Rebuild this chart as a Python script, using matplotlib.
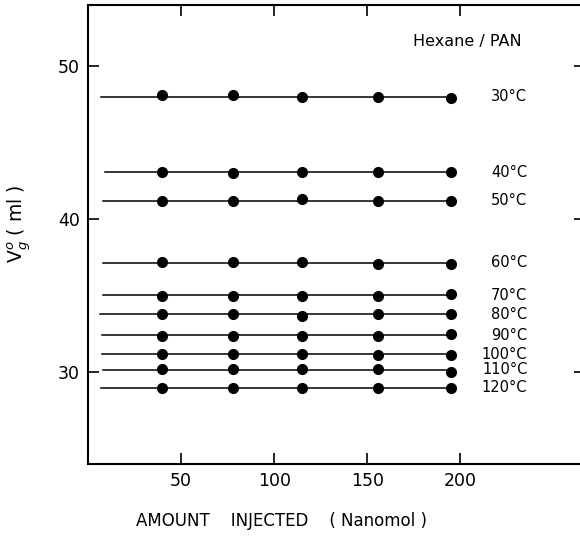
import numpy as np
import matplotlib
matplotlib.use("Agg")
import matplotlib.pyplot as plt

# === Data ===
amount = [40, 78, 115, 156, 195]           # nanomol injected
temps = ["30°C", "40°C", "50°C", "60°C", "70°C",
         "80°C", "90°C", "100°C", "110°C", "120°C"]
vg = [
    [48.1, 48.1, 48.0, 48.0, 47.9],
    [43.1, 43.0, 43.1, 43.1, 43.1],
    [41.2, 41.2, 41.3, 41.2, 41.2],
    [37.2, 37.2, 37.2, 37.1, 37.1],
    [35.0, 35.0, 35.0, 35.0, 35.1],
    [33.8, 33.8, 33.7, 33.8, 33.8],
    [32.4, 32.4, 32.4, 32.4, 32.5],
    [31.2, 31.2, 31.2, 31.1, 31.1],
    [30.2, 30.2, 30.2, 30.2, 30.0],
    [29.0, 29.0, 29.0, 29.0, 29.0],
]
line_start = [7, 9, 8, 8, 8, 6.5, 7.5, 7.5, 8, 7]

plt.rcParams['font.family'] = ['DejaVu Sans']

fig = plt.figure(figsize=(5.8, 5.36), dpi=100)
ax = fig.add_axes([0.1517, 0.1343, 0.857, 0.8563])

for vals, x0, lab in zip(vg, line_start, temps):
    level = np.mean(vals)
    ax.plot([x0, amount[-1]], [level, level], color='black', lw=1.1, zorder=2)
    ax.plot(amount, vals, 'o', color='black', ms=7, zorder=3)
    ax.text(236, level, lab, ha='right', va='center', fontsize=10.5)

ax.text(233, 51.6, "Hexane / PAN", ha='right', va='center', fontsize=11.5)

ax.set_xlim(0, 267)
ax.set_ylim(24, 54)
ax.set_xticks([50, 100, 150, 200])
ax.set_yticks([30, 40, 50])
ax.tick_params(direction='in', length=8, width=1.2, labelsize=12.5,
               top=True, right=True, pad=6)
for s in ax.spines.values():
    s.set_linewidth(1.5)

fig.text(20 / 580, (536 - 224) / 536, r"V$_g^o$ ( ml )", rotation=90,
         ha='center', va='center', fontsize=13.5)
fig.text(281 / 580, (536 - 521) / 536,
         "AMOUNT    INJECTED    ( Nanomol )",
         ha='center', va='center', fontsize=12)

fig.savefig("out.png", dpi=100)
